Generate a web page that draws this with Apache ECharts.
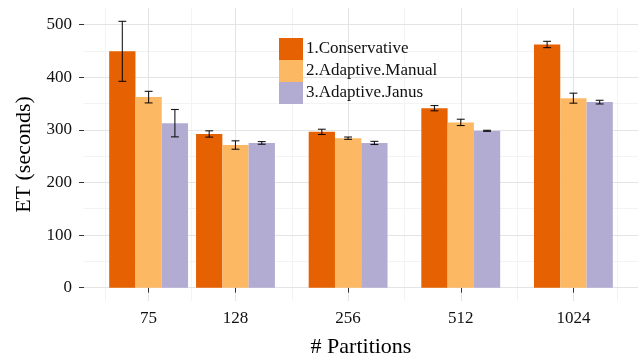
<!DOCTYPE html>
<html>
<head>
<meta charset="utf-8">
<script src="https://cdn.jsdelivr.net/npm/echarts@6/dist/echarts.min.js"></script>
<style>html,body{margin:0;padding:0;background:#fff}#c{width:638px;height:363px}</style>
</head>
<body>
<div id="c"></div>
<script>
const partitions = [75, 128, 256, 512, 1024];
const seriesNames = ['1.Conservative', '2.Adaptive.Manual', '3.Adaptive.Janus'];
const conservative = [449, 292, 296, 341, 462];
const conservativeErr = [57, 6, 5, 5, 6];
const manual = [362, 271, 284, 314, 360];
const manualErr = [11, 8, 2.2, 6, 9.5];
const janus = [312.5, 275, 275, 298, 352.5];
const janusErr = [26, 2.5, 3, 1, 3.5];
const yTicks = [0, 100, 200, 300, 400, 500];
const yMinor = [50, 150, 250, 350, 450];
const colors = ['#E66101', '#FDB863', '#B2ABD2'];

const FONT = '"Liberation Serif", "Times New Roman", serif';
const lx = partitions.map(p => Math.log2(p));
const dodge = 0.7, bw = dodge / 3;
const xLo = lx[0] - dodge / 2, xHi = lx[lx.length - 1] + dodge / 2;
const xMin = xLo - 0.05 * (xHi - xLo), xMax = xHi + 0.05 * (xHi - xLo);
const values = [conservative, manual, janus];
const errs = [conservativeErr, manualErr, janusErr];
let dataTop = 0;
values.forEach((v, s) => v.forEach((d, i) => { dataTop = Math.max(dataTop, d + errs[s][i]); }));
const yMin = -0.05 * dataTop, yMax = dataTop * 1.05;
// ggplot-style minor breaks
const bd = lx[1] - lx[0];
const ext = [lx[0] - bd].concat(lx, [lx[lx.length - 1] + bd]);
const xMinor = [];
for (let i = 0; i < ext.length - 1; i++) xMinor.push((ext[i] + ext[i + 1]) / 2);

function makeSeries(s) {
  const off = (s - 1) * bw;
  return {
    name: seriesNames[s],
    type: 'custom',
    itemStyle: { color: colors[s] },
    data: partitions.map((p, i) => [lx[i], values[s][i], errs[s][i]]),
    encode: { x: 0, y: 1 },
    z: 3,
    renderItem: function (params, api) {
      const cx = api.value(0) + off, y = api.value(1), e = api.value(2);
      const a = api.coord([cx - bw / 2, y]);
      const b = api.coord([cx + bw / 2, 0]);
      const t = api.coord([cx, y + e]);
      const bo = api.coord([cx, y - e]);
      const cl = api.coord([cx - bw * 0.15, y])[0];
      const cr = api.coord([cx + bw * 0.15, y])[0];
      const ls = { stroke: 'rgba(0,0,0,0.9)', lineWidth: 1.1 };
      return {
        type: 'group',
        children: [
          { type: 'rect', shape: { x: a[0], y: a[1], width: b[0] - a[0], height: b[1] - a[1] }, style: { fill: colors[s] } },
          { type: 'line', shape: { x1: t[0], y1: t[1], x2: bo[0], y2: bo[1] }, style: ls, z2: 5 },
          { type: 'line', shape: { x1: cl, y1: t[1], x2: cr, y2: t[1] }, style: ls, z2: 5 },
          { type: 'line', shape: { x1: cl, y1: bo[1], x2: cr, y2: bo[1] }, style: ls, z2: 5 }
        ]
      };
    }
  };
}

const gridSeries = {
  type: 'line', data: [], silent: true, z: 0,
  markLine: {
    silent: true, symbol: 'none', animation: false, label: { show: false }, z: 0,
    data: [].concat(
      yMinor.map(v => ({ yAxis: v, lineStyle: { color: '#F3F3F3', width: 1, type: 'solid' } })),
      xMinor.map(v => ({ xAxis: v, lineStyle: { color: '#F3F3F3', width: 1, type: 'solid' } })),
      yTicks.map(v => ({ yAxis: v, lineStyle: { color: '#E4E4E4', width: 1.1, type: 'solid' } })),
      lx.map(v => ({ xAxis: v, lineStyle: { color: '#E4E4E4', width: 1.1, type: 'solid' } }))
    )
  }
};

const chart = echarts.init(document.getElementById('c'), null, { renderer: 'canvas' });
chart.setOption({
  animation: false,
  backgroundColor: '#fff',
  grid: { left: 84, right: 0, top: 8, bottom: 60, containLabel: false },
  legend: {
    data: seriesNames, orient: 'vertical', left: 274, top: 33, z: 10,
    itemWidth: 24, itemHeight: 22, itemGap: 0, icon: 'rect',
    textStyle: { fontFamily: FONT, fontSize: 17, color: '#111', padding: [0, 0, 0, -2] },
    selectedMode: false
  },
  xAxis: {
    type: 'value', min: xMin, max: xMax,
    name: '# Partitions', nameLocation: 'middle', nameGap: 35,
    nameTextStyle: { fontFamily: FONT, fontSize: 22, color: '#000' },
    axisLine: { show: false },
    splitLine: { show: false },
    axisTick: { show: true, length: 5, customValues: lx, lineStyle: { color: '#333', width: 1 } },
    axisLabel: { customValues: lx, margin: 9, fontFamily: FONT, fontSize: 17, color: '#111',
      formatter: v => String(Math.round(Math.pow(2, v))) }
  },
  yAxis: {
    type: 'value', min: yMin, max: yMax,
    name: 'ET (seconds)', nameLocation: 'middle', nameGap: 49,
    nameTextStyle: { fontFamily: FONT, fontSize: 22, color: '#000' },
    axisLine: { show: false },
    splitLine: { show: false },
    axisTick: { show: true, length: 5, customValues: yTicks, lineStyle: { color: '#333', width: 1 } },
    axisLabel: { customValues: yTicks, margin: 12, fontFamily: FONT, fontSize: 17, color: '#111' }
  },
  series: [gridSeries, makeSeries(0), makeSeries(1), makeSeries(2)]
});
</script>
</body>
</html>
